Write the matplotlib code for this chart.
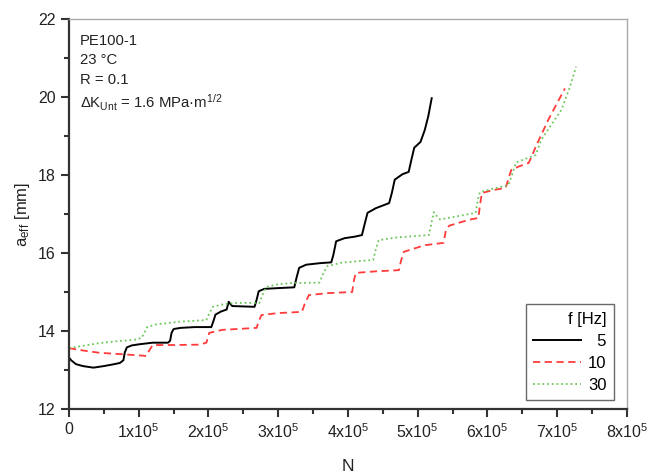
import numpy as np
import matplotlib
matplotlib.use('Agg')
import matplotlib.pyplot as plt
from matplotlib.ticker import MultipleLocator, FuncFormatter

plt.rcParams['font.family'] = ['Liberation Sans', 'DejaVu Sans']
plt.rcParams['mathtext.fontset'] = 'custom'
plt.rcParams['mathtext.rm'] = 'Liberation Sans'
plt.rcParams['mathtext.it'] = 'Liberation Sans'

# crack length curves, N in units of 1e5 cycles, a_eff in mm
n_5hz = [0.00, 0.03, 0.10, 0.20, 0.35, 0.50, 0.65, 0.73, 0.78, 0.80, 0.83, 0.90,
         1.01, 1.20, 1.42, 1.45, 1.47, 1.50, 1.60, 1.80, 2.04, 2.07, 2.10, 2.18,
         2.26, 2.29, 2.31, 2.34, 2.50, 2.66, 2.69, 2.72, 2.80, 3.00, 3.23, 3.26,
         3.30, 3.40, 3.60, 3.76, 3.79, 3.83, 3.95, 4.10, 4.20, 4.24, 4.28, 4.40,
         4.59, 4.63, 4.67, 4.78, 4.87, 4.91, 4.95, 5.04, 5.10, 5.15, 5.20]
a_5hz = [13.32, 13.25, 13.15, 13.10, 13.06, 13.10, 13.15, 13.18, 13.25, 13.45, 13.58, 13.63,
         13.66, 13.70, 13.70, 13.75, 13.95, 14.05, 14.08, 14.10, 14.10, 14.25, 14.42, 14.50,
         14.55, 14.75, 14.70, 14.64, 14.63, 14.62, 14.80, 15.02, 15.08, 15.10, 15.12, 15.35,
         15.62, 15.70, 15.74, 15.76, 15.95, 16.30, 16.38, 16.42, 16.46, 16.75, 17.03, 17.15,
         17.28, 17.55, 17.88, 18.02, 18.08, 18.40, 18.70, 18.85, 19.15, 19.50, 19.97]

n_10hz = [0.00, 0.20, 0.44, 0.80, 1.11, 1.15, 1.20, 1.50, 1.87, 1.97, 2.01, 2.20,
          2.50, 2.69, 2.72, 2.76, 3.00, 3.34, 3.38, 3.44, 3.70, 4.06, 4.08, 4.11,
          4.40, 4.73, 4.76, 4.80, 5.10, 5.37, 5.40, 5.45, 5.73, 5.87, 5.89, 5.92,
          6.10, 6.26, 6.30, 6.34, 6.45, 6.59, 6.64, 6.69, 6.87, 7.00, 7.11]
a_10hz = [13.56, 13.50, 13.44, 13.40, 13.36, 13.50, 13.64, 13.64, 13.65, 13.70, 13.95, 14.03,
          14.06, 14.08, 14.25, 14.41, 14.46, 14.49, 14.70, 14.92, 14.97, 15.00, 15.25, 15.49,
          15.53, 15.56, 15.80, 16.03, 16.20, 16.26, 16.55, 16.70, 16.85, 16.90, 17.20, 17.54,
          17.62, 17.67, 17.90, 18.13, 18.22, 18.31, 18.50, 18.72, 19.41, 19.85, 20.22]

n_30hz = [0.00, 0.20, 0.44, 0.70, 0.92, 1.04, 1.08, 1.12, 1.25, 1.40, 1.60, 1.97,
          2.01, 2.06, 2.20, 2.40, 2.73, 2.78, 2.83, 3.00, 3.20, 3.59, 3.64, 3.70,
          3.90, 4.20, 4.36, 4.40, 4.44, 4.70, 5.16, 5.20, 5.23, 5.27, 5.32, 5.50,
          5.83, 5.86, 5.89, 6.10, 6.30, 6.36, 6.41, 6.55, 6.69, 6.77, 6.90, 7.06,
          7.18, 7.27]
a_30hz = [13.56, 13.62, 13.69, 13.74, 13.77, 13.82, 13.95, 14.10, 14.17, 14.20, 14.24, 14.28,
          14.45, 14.62, 14.68, 14.72, 14.72, 14.95, 15.13, 15.20, 15.23, 15.24, 15.45, 15.66,
          15.75, 15.80, 15.82, 16.10, 16.33, 16.40, 16.46, 16.80, 17.05, 16.95, 16.86, 16.92,
          17.03, 17.35, 17.56, 17.66, 17.74, 18.05, 18.32, 18.42, 18.51, 18.90, 19.25, 19.67,
          20.25, 20.78]

info_lines = ['PE100-1', '23 °C', 'R = 0.1',
              r'$\Delta$K$_{\mathregular{Unt}}$ = 1.6 MPa·m$^{\mathregular{1/2}}$']

fig = plt.figure(figsize=(6.49, 4.76), dpi=100)
ax = fig.add_axes([0.1063, 0.1408, 0.8598, 0.8192])

ax.plot(np.array(n_5hz) * 1e5, a_5hz, color='black', lw=1.4, label='\u20075')
ax.plot(np.array(n_10hz) * 1e5, a_10hz, color='#ff3b3b', lw=1.3, ls=(0, (4, 2.5)), label='10')
ax.plot(np.array(n_30hz) * 1e5, a_30hz, color='#6cc85a', lw=1.3, ls=(0, (1, 1.6)), label='30')

ax.set_xlim(0, 8e5)
ax.set_ylim(12, 22)
ax.xaxis.set_major_locator(MultipleLocator(1e5))
ax.xaxis.set_minor_locator(MultipleLocator(0.5e5))
ax.yaxis.set_major_locator(MultipleLocator(2))
ax.yaxis.set_minor_locator(MultipleLocator(1))


def fmt_x(v, pos):
    k = int(round(v / 1e5))
    if k == 0:
        return '0'
    return r'$\mathregular{%dx10^{5}}$' % k


ax.xaxis.set_major_formatter(FuncFormatter(fmt_x))
ax.tick_params(axis='both', which='major', direction='out', length=6, width=1.5,
               labelsize=11.5, color='#333333', labelcolor='#222222')
ax.tick_params(axis='both', which='minor', direction='out', length=3.5, width=1.5,
               color='#333333')
ax.tick_params(top=False, right=False, which='both')

for side in ['left', 'bottom']:
    ax.spines[side].set_linewidth(1.6)
    ax.spines[side].set_color('#333333')
for side in ['top', 'right']:
    ax.spines[side].set_linewidth(1.0)
    ax.spines[side].set_color('#aaaaaa')

ax.set_xlabel('N', fontsize=12.5, labelpad=13, color='#222222')
ax.set_ylabel(r'a$_{\mathregular{eff}}$ [mm]', fontsize=12, labelpad=4, color='#222222')

for i, line in enumerate(info_lines):
    ax.text(0.02, 0.962 - i * 0.05, line, transform=ax.transAxes, fontsize=10.7,
            va='top', ha='left', color='#222222')

leg = ax.legend(title='f [Hz]', loc='lower right', bbox_to_anchor=(0.977, 0.023),
                borderaxespad=0, fontsize=12, title_fontsize=12, frameon=True,
                fancybox=False, edgecolor='#444444', handlelength=2.9,
                handletextpad=0.4, borderpad=0.45, labelspacing=0.42,
                alignment='right')
leg.get_frame().set_linewidth(1.0)

fig.savefig('out.png', dpi=100)
